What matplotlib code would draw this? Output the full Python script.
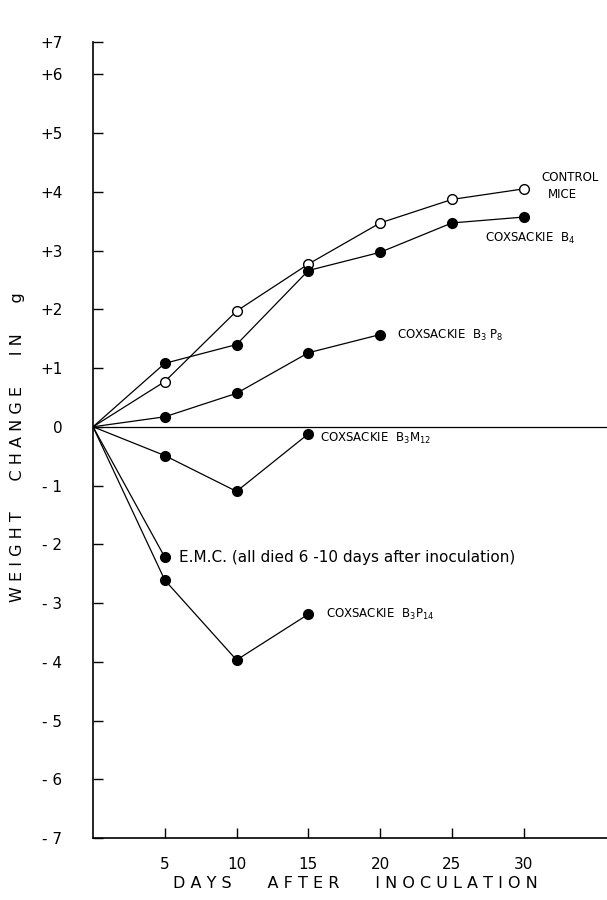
import matplotlib.pyplot as plt

# dias despues de la inoculacion
dias_control = [0, 5, 10, 15, 20, 25, 30]
control = [0, 0.77, 1.97, 2.77, 3.47, 3.87, 4.05]

dias_b4 = [0, 5, 10, 15, 20, 25, 30]
b4 = [0, 1.08, 1.40, 2.66, 2.97, 3.47, 3.57]

dias_b3p8 = [0, 5, 10, 15, 20]
b3p8 = [0, 0.17, 0.57, 1.26, 1.57]

dias_b3m12 = [0, 5, 10, 15]
b3m12 = [0, -0.49, -1.1, -0.12]

dias_emc = [0, 5]
emc = [0, -2.22]

dias_b3p14 = [0, 5, 10, 15]
b3p14 = [0, -2.61, -3.97, -3.19]

x_ticks = [5, 10, 15, 20, 25, 30]
y_ticks = [-7, -6, -5, -4, -3, -2, -1, 0, 1, 2, 3, 4, 5, 6]
y_labels = ['- 7', '- 6', '- 5', '- 4', '- 3', '- 2', '- 1', '0',
            '+1', '+2', '+3', '+4', '+5', '+6']
y_top = 6.55

fig = plt.figure(figsize=(6.07, 9), dpi=100)
ax = fig.add_axes([93 / 607, 62 / 900, 514 / 607, 796 / 900])

lw = 0.9
ax.axhline(0, color='black', lw=lw)
ax.plot(dias_control, control, '-o', color='black', lw=lw, ms=7,
        mfc='white', mec='black', mew=1.0)
ax.plot(dias_b4, b4, '-o', color='black', lw=lw, ms=7)
ax.plot(dias_b3p8, b3p8, '-o', color='black', lw=lw, ms=7)
ax.plot(dias_b3m12, b3m12, '-o', color='black', lw=lw, ms=7)
ax.plot(dias_emc, emc, '-o', color='black', lw=lw, ms=7)
ax.plot(dias_b3p14, b3p14, '-o', color='black', lw=lw, ms=7)
# el origen (0,0) no lleva marcador
for l in ax.lines[1:]:
    l.set_markevery(slice(1, None))

ax.set_xlim(0, 35.8)
ax.set_ylim(-7, y_top)
ax.set_xticks(x_ticks)
ax.set_xticklabels([str(d) for d in x_ticks])
ax.set_yticks(y_ticks + [y_top])
ax.set_yticklabels(y_labels + ['+7'])

for s in ['top', 'right']:
    ax.spines[s].set_visible(False)
for s in ['left', 'bottom']:
    ax.spines[s].set_linewidth(1.2)
ax.tick_params(direction='in', length=7, width=1.0, labelsize=11, pad=22)
ax.tick_params(axis='x', pad=14)

# titulos de los ejes
fig.text(18 / 607, 1 - 447 / 900, 'W E I G H T      C H A N G E      I N      g',
         rotation=90, fontsize=11.5, ha='center', va='center')
fig.text(355 / 607, 1 - 884 / 900, 'D A Y S       A F T E R       I N O C U L A T I O N',
         fontsize=11.5, ha='center', va='center')

fs = 8.5
ax.text(31.2, 4.25, 'CONTROL', fontsize=fs, va='center')
ax.text(31.7, 3.95, 'MICE', fontsize=fs, va='center')
ax.text(27.3, 3.2, 'COXSACKIE  B$_4$', fontsize=fs, va='center')
ax.text(21.2, 1.55, 'COXSACKIE  B$_3$ P$_8$', fontsize=fs, va='center')
ax.text(15.8, -0.2, 'COXSACKIE  B$_3$M$_{12}$', fontsize=fs, va='center')
ax.text(6.0, -2.22, 'E.M.C. (all died 6 -10 days after inoculation)', fontsize=11, va='center')
ax.text(16.2, -3.2, 'COXSACKIE  B$_3$P$_{14}$', fontsize=fs, va='center')

plt.savefig('out.png', dpi=100)
